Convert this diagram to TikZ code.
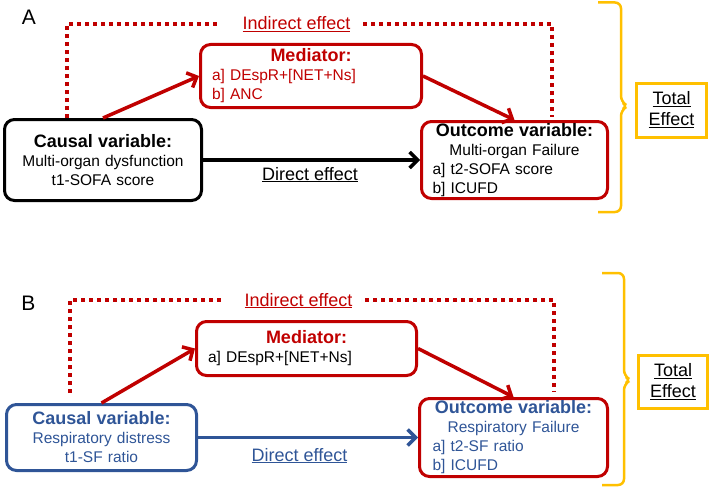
\documentclass[tikz,border=0pt]{standalone}
\usepackage{fontspec}
\setmainfont{Liberation Sans}
\usetikzlibrary{arrows.meta}
\setlength{\parindent}{0pt}
\definecolor{effred}{HTML}{C00000}
\definecolor{effblue}{HTML}{2F5597}
\definecolor{effgold}{HTML}{FFC000}
\newcommand\boxbody{\fontsize{15.5}{19}\selectfont}
\newcommand\boxtitle{\fontsize{18}{21}\selectfont\bfseries}
\newcommand\efflabel{\fontsize{18}{21}\selectfont}
\tikzset{
  varbox/.style={draw, line width=3pt, rounded corners=10pt, inner sep=0pt, font=\boxbody},
  totbox/.style={draw=effgold, line width=3pt, inner sep=0pt, align=center, font=\efflabel},
  effarrow/.style={line width=3.5pt, -{Straight Barb[length=8pt,width=16pt]}},
  indirect/.style={draw=effred, line width=4pt, dash pattern=on 4pt off 4pt},
  brace/.style={draw=effgold, line width=2.5pt, rounded corners=6pt},
  panel/.style={font=\fontsize{21}{24}\selectfont, anchor=base}
}
\begin{document}
\begin{tikzpicture}[x=1pt,y=-1pt]
  \useasboundingbox (0,0) rectangle (711,487);

  \node[panel] (labA) at (29,25) {A};
  \node[varbox, minimum width=197pt, minimum height=81pt, text width=190pt, align=center]
    (causalA) at (103,160) {{\boxtitle Causal variable:\par}Multi-organ dysfunction\\t1-SOFA score};
  \node[varbox, draw=effred, text=effred, minimum width=221pt, minimum height=63pt, text width=198pt]
    (medA) at (311,76) {{\centering\boxtitle Mediator:\par}a] DEspR+[NET+Ns]\newline b] ANC};
  \node[varbox, draw=effred, minimum width=186pt, minimum height=77pt, text width=164pt]
    (outA) at (514.5,160) {{\centering\boxtitle Outcome variable:\par}{\centering Multi-organ Failure\par}a] t2-SOFA score\newline b] ICUFD};
  \node[font=\efflabel, text=effred, anchor=base] (indA) at (296.5,30) {\underline{Indirect effect}};
  \node[font=\efflabel, anchor=base] (dirA) at (310,180) {\underline{Direct effect}};
  \node[totbox, minimum width=70pt, minimum height=54pt] (totA) at (671.5,110) {\underline{Total}\\\underline{Effect}};
  \coordinate (ia1) at (67,118);
  \coordinate (ia2) at (220,24);
  \coordinate (ia3) at (363,24);
  \coordinate (ia4) at (552,117);
  \draw[indirect] (ia1) |- (ia2);
  \draw[indirect] (ia3) -| (ia4);
  \draw[effarrow, effred] (causalA.north) -- (medA.west);
  \draw[effarrow, effred] (medA.east) -- (outA.north);
  \draw[effarrow] (causalA.east) -- (outA.west);
  \draw[brace] (598,2.5) -- (621,2.5) -- (621,102) -- (628,106) -- (621,110) -- (621,212) -- (598,212);

  \node[panel] (labB) at (28.5,310) {B};
  \node[varbox, draw=effblue, text=effblue, minimum width=190pt, minimum height=66pt, text width=184pt, align=center]
    (causalB) at (101.5,437.5) {{\boxtitle Causal variable:\par}Respiratory distress\\t1-SF ratio};
  \node[varbox, draw=effred, minimum width=220pt, minimum height=54pt, text width=197pt]
    (medB) at (306.5,348.5) {{\centering\boxtitle\color{effred} Mediator:\par}a] DEspR+[NET+Ns]};
  \node[varbox, draw=effred, text=effblue, minimum width=188pt, minimum height=78pt, text width=162pt]
    (outB) at (513.5,437.5) {{\centering\boxtitle Outcome variable:\par}{\centering Respiratory Failure\par}a] t2-SF ratio\newline b] ICUFD};
  \node[font=\efflabel, text=effred, anchor=base] (indB) at (298.5,306) {\underline{Indirect effect}};
  \node[font=\efflabel, text=effblue, anchor=base] (dirB) at (299.5,461) {\underline{Direct effect}};
  \node[totbox, minimum width=69pt, minimum height=53pt] (totB) at (673,382) {\underline{Total}\\\underline{Effect}};
  \coordinate (ib1) at (70,393);
  \coordinate (ib2) at (222,300);
  \coordinate (ib3) at (365,300);
  \coordinate (ib4) at (554,392);
  \draw[indirect] (ib1) |- (ib2);
  \draw[indirect] (ib3) -| (ib4);
  \draw[effarrow, effred] (causalB.north) -- (medB.west);
  \draw[effarrow, effred] (medB.east) -- (outB.north);
  \draw[effarrow, effblue] (causalB.east) -- (outB.west);
  \draw[brace] (602,273) -- (624,273) -- (624,376) -- (631,380) -- (624,384) -- (624,485) -- (602,485);
\end{tikzpicture}
\end{document}
